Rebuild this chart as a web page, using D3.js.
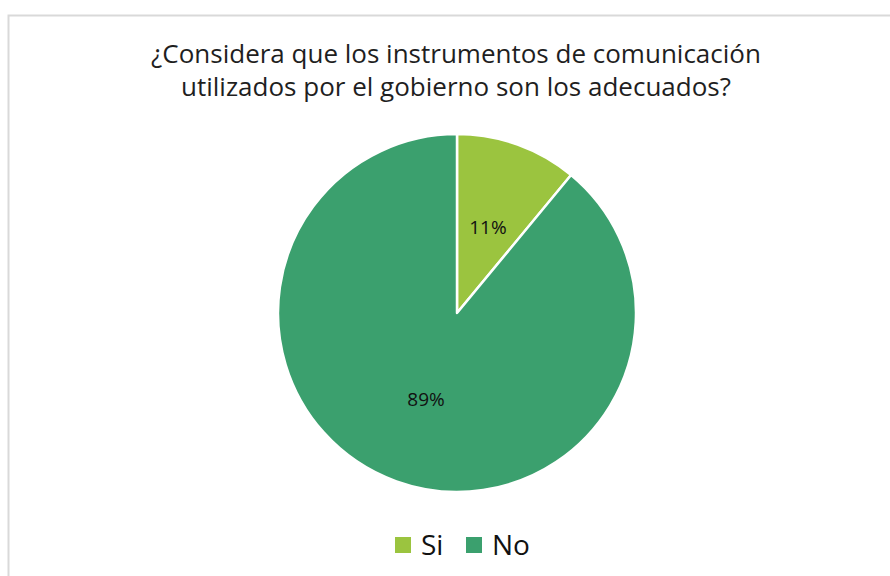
<!DOCTYPE html>
<html>
<head>
<meta charset="utf-8">
<script src="https://cdn.jsdelivr.net/npm/d3@7"></script>
<style>
  html, body { margin: 0; padding: 0; background: #ffffff; }
  svg { display: block; }
</style>
</head>
<body>
<svg id="chart" width="890" height="576"></svg>
<script>
// Survey answers and their shares (percent)
const categories = ["Si", "No"];
const values = [11, 89];
const colors = ["#9bc43f", "#3ba06e"];
const titleLines = [
  "¿Considera que los instrumentos de comunicación",
  "utilizados por el gobierno son los adecuados?"
];

const svg = d3.select("#chart");
const W = 890, H = 576;
const font = "'Open Sans', 'Noto Sans', sans-serif";

// Chart frame
svg.append("rect")
  .attr("x", 8.5).attr("y", 15.5)
  .attr("width", W + 10).attr("height", H + 10)
  .attr("fill", "#ffffff")
  .attr("stroke", "#d9d9d9")
  .attr("stroke-width", 2);

// Title
svg.append("g").selectAll("text")
  .data(titleLines)
  .join("text")
  .attr("x", 456)
  .attr("y", (d, i) => 63 + i * 33)
  .attr("text-anchor", "middle")
  .attr("font-family", font)
  .attr("font-size", 26)
  .attr("fill", "#1f1f1f")
  .text(d => d);

// Pie
const cx = 457, cy = 313, R = 179;
const color = d3.scaleOrdinal().domain(categories).range(colors);
const pie = d3.pie().sort(null).value(d => d.value);
const arcs = pie(categories.map((c, i) => ({ cat: c, value: values[i] })));
const arc = d3.arc().innerRadius(0).outerRadius(R);
const labelArc = d3.arc().innerRadius(R * 0.51).outerRadius(R * 0.51);

const g = svg.append("g").attr("transform", `translate(${cx},${cy})`);
g.selectAll("path")
  .data(arcs)
  .join("path")
  .attr("d", arc)
  .attr("fill", d => color(d.data.cat))
  .attr("stroke", "#ffffff")
  .attr("stroke-width", 2.5)
  .attr("stroke-linejoin", "round");

g.selectAll("text.val")
  .data(arcs)
  .join("text")
  .attr("class", "val")
  .attr("transform", d => `translate(${labelArc.centroid(d)})`)
  .attr("text-anchor", "middle")
  .attr("dominant-baseline", "central")
  .attr("font-family", font)
  .attr("font-size", 19)
  .attr("fill", "#111111")
  .text(d => d.data.value + "%");

// Legend
const legend = svg.append("g").attr("transform", "translate(395,545)");
const items = legend.selectAll("g")
  .data(categories)
  .join("g")
  .attr("transform", (d, i) => `translate(${i * 71},0)`);
items.append("rect")
  .attr("x", 0).attr("y", -8)
  .attr("width", 16).attr("height", 16)
  .attr("fill", d => color(d));
items.append("text")
  .attr("x", 26).attr("y", 10)
  .attr("font-family", font)
  .attr("font-size", 28)
  .attr("fill", "#111111")
  .text(d => d);
</script>
</body>
</html>
